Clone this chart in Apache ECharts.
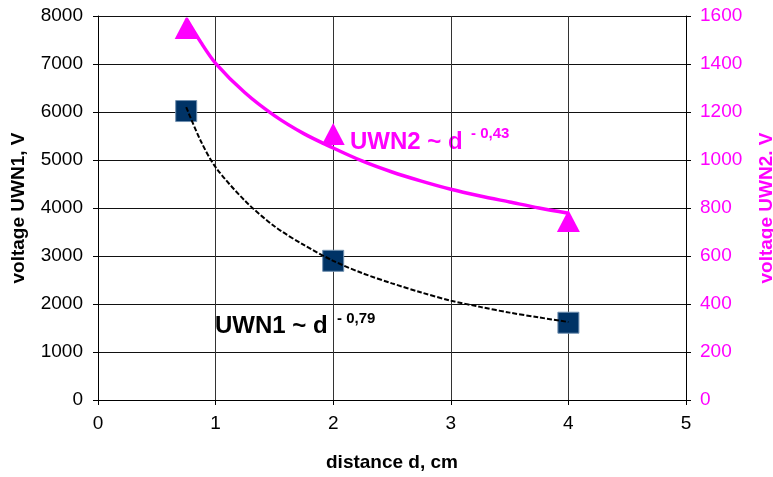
<!DOCTYPE html>
<html>
<head>
<meta charset="utf-8">
<script src="https://cdn.jsdelivr.net/npm/echarts@6/dist/echarts.min.js"></script>
<style>html,body{margin:0;padding:0;background:#fff}#c{width:773px;height:477px}</style>
</head>
<body>
<div id="c"></div>
<script>
// measured points
const uwn1Points = [[0.75, 6020], [2, 2900], [4, 1610]];
const uwn2Points = [[0.75, 1550], [2, 1108], [4, 746]];
// trend curves
const fitX  = [0.75, 0.875, 1, 1.25, 1.5, 1.75, 2, 2.25, 2.5, 2.75, 3, 3.25, 3.5, 3.75, 4];
const fit1Y = [6100, 5390, 4850, 4150, 3620, 3230, 2900, 2640, 2430, 2240, 2070, 1940, 1820, 1720, 1625];
const fit2Y = [1590, 1490, 1403, 1280, 1185, 1110, 1050, 995, 950, 912, 878, 850, 825, 800, 778];
const xTicks = [0, 1, 2, 3, 4, 5];
const leftTicks = [0, 1000, 2000, 3000, 4000, 5000, 6000, 7000, 8000];
const rightTicks = [0, 200, 400, 600, 800, 1000, 1200, 1400, 1600];

const MAG = '#FF00FF';
const FONT = '"Liberation Sans", Arial, sans-serif';
const chart = echarts.init(document.getElementById('c'), null, {renderer: 'canvas'});
const zip = (xs, ys) => xs.map((x, i) => [x, ys[i]]);
const plain = v => String(v);

chart.setOption({
  animation: false,
  textStyle: {fontFamily: FONT},
  grid: {left: 98, right: 87, top: 16, bottom: 77, containLabel: false, outerBoundsMode: 'none'},
  xAxis: {
    type: 'value', min: xTicks[0], max: xTicks[xTicks.length - 1], interval: 1,
    name: 'distance d, cm', nameLocation: 'middle', nameGap: 53,
    nameTextStyle: {fontSize: 19, fontWeight: 'bold', color: '#000', fontFamily: FONT},
    axisLine: {lineStyle: {color: '#000', width: 1}},
    axisTick: {show: true, length: 5, lineStyle: {color: '#000'}},
    axisLabel: {fontSize: 19, color: '#000', margin: 14, fontFamily: FONT, formatter: plain},
    splitLine: {show: true, lineStyle: {color: '#333', width: 1}}
  },
  yAxis: [{
    type: 'value', min: leftTicks[0], max: leftTicks[leftTicks.length - 1], interval: 1000,
    name: 'voltage UWN1, V', nameLocation: 'middle', nameGap: 70, nameRotate: 90,
    nameTextStyle: {fontSize: 19, fontWeight: 'bold', color: '#000', fontFamily: FONT},
    axisLine: {show: true, lineStyle: {color: '#000'}},
    axisTick: {show: true, length: 5, lineStyle: {color: '#000'}},
    axisLabel: {fontSize: 19, color: '#000', margin: 15, fontFamily: FONT, formatter: plain},
    splitLine: {show: true, lineStyle: {color: '#111', width: 1}}
  }, {
    type: 'value', position: 'right', min: rightTicks[0], max: rightTicks[rightTicks.length - 1], interval: 200,
    name: 'voltage UWN2. V', nameLocation: 'middle', nameGap: 71, nameRotate: 90,
    nameTextStyle: {fontSize: 19, fontWeight: 'bold', color: MAG, fontFamily: FONT},
    axisLine: {show: true, lineStyle: {color: '#000'}},
    axisTick: {show: true, length: 5, lineStyle: {color: '#000'}},
    axisLabel: {fontSize: 19, color: MAG, margin: 14, fontFamily: FONT, formatter: plain},
    splitLine: {show: false}
  }],
  series: [{
    type: 'scatter', yAxisIndex: 0, data: uwn1Points, symbol: 'rect', symbolSize: 21, z: 2,
    itemStyle: {color: '#003366', borderColor: '#7090b0', borderWidth: 1, opacity: 1}
  }, {
    type: 'scatter', yAxisIndex: 1, data: uwn2Points, symbol: 'triangle', symbolSize: [23, 22], z: 2,
    itemStyle: {color: MAG, opacity: 1}
  }, {
    type: 'line', yAxisIndex: 0, data: zip(fitX, fit1Y), smooth: 0.3, showSymbol: false, z: 3,
    lineStyle: {color: '#000', width: 2, type: [5, 2]}
  }, {
    type: 'line', yAxisIndex: 1, data: zip(fitX, fit2Y), smooth: 0.3, showSymbol: false, z: 3,
    lineStyle: {color: MAG, width: 3.5}
  }],
  graphic: [
    {type: 'text', left: 215, top: 314, style: {text: 'UWN1 ~ d', font: 'bold 24px ' + FONT, fill: '#000'}},
    {type: 'text', left: 337, top: 311, style: {text: '- 0,79', font: 'bold 15px ' + FONT, fill: '#000'}},
    {type: 'text', left: 350, top: 130, style: {text: 'UWN2 ~ d', font: 'bold 24px ' + FONT, fill: MAG}},
    {type: 'text', left: 471, top: 126, style: {text: '- 0,43', font: 'bold 15px ' + FONT, fill: MAG}}
  ]
});
</script>
</body>
</html>
